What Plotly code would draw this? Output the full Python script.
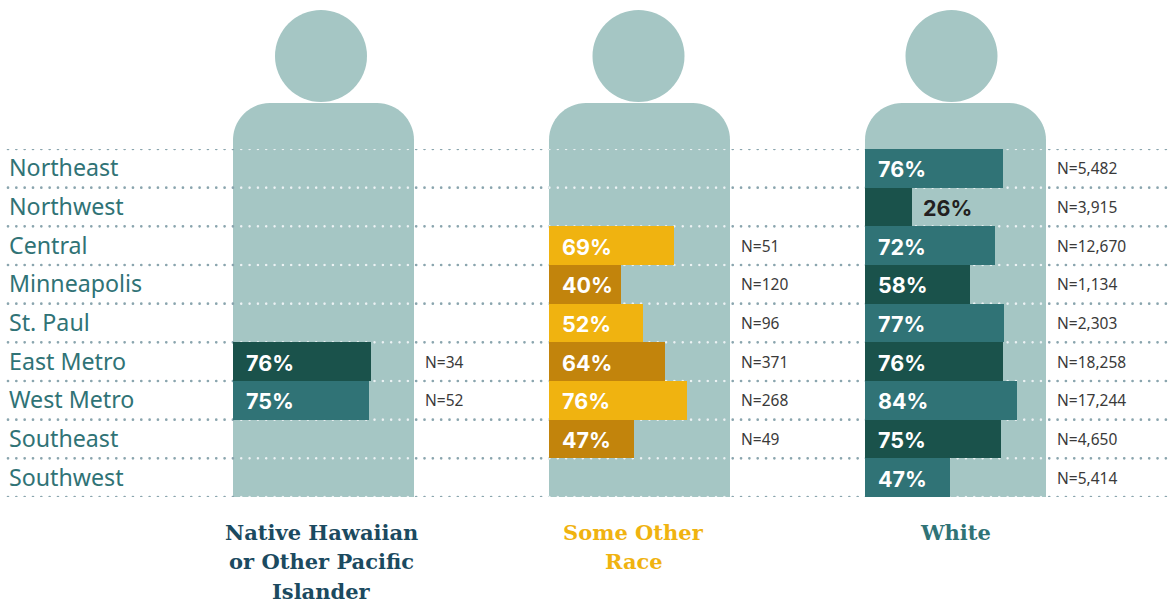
import plotly.graph_objects as go

regions = ["Northeast", "Northwest", "Central", "Minneapolis", "St. Paul", "East Metro", "West Metro", "Southeast", "Southwest"]

native_values = [None, None, None, None, None, 76, 75, None, None]
native_n = [None, None, None, None, None, "N=34", "N=52", None, None]
native_colors = ["#1a524b", "#1a524b", "#1a524b", "#1a524b", "#1a524b", "#1a524b", "#307376", "#1a524b", "#1a524b"]

other_values = [None, None, 69, 40, 52, 64, 76, 47, None]
other_n = [None, None, "N=51", "N=120", "N=96", "N=371", "N=268", "N=49", None]
other_colors = ["#f0b310", "#f0b310", "#f0b310", "#c2840c", "#f0b310", "#c2840c", "#f0b310", "#c2840c", "#f0b310"]

white_values = [76, 26, 72, 58, 77, 76, 84, 75, 47]
white_n = ["N=5,482", "N=3,915", "N=12,670", "N=1,134", "N=2,303", "N=18,258", "N=17,244", "N=4,650", "N=5,414"]
white_colors = ["#307376", "#1a524b", "#307376", "#1a524b", "#307376", "#1a524b", "#307376", "#1a524b", "#307376"]

W, H = 1170, 603
BODY = "#a5c6c4"
panels = [
    dict(ax="x", left=233, right=414, head=321, values=native_values, n=native_n, colors=native_colors,
         title=["Native Hawaiian", "or Other Pacific", "Islander"], tc="#1b4a60", tx=321.5),
    dict(ax="x2", left=549, right=730, head=638.5, values=other_values, n=other_n, colors=other_colors,
         title=["Some Other", "Race"], tc="#f0b310", tx=633.5),
    dict(ax="x3", left=865, right=1046, head=951.5, values=white_values, n=white_n, colors=white_colors,
         title=["White"], tc="#307376", tx=955.5),
]
PCT_FONT = "Inter"
LABEL_FONT = "Noto Sans"
TITLE_FONT = "DejaVu Serif"
ROW_TOP, ROW_BOTTOM = 149, 497

fig = go.Figure()
shapes, notes = [], []

def px(x):
    return x / W

def py(y):
    return 1 - y / H

# Silhouettes
K = 0.45
for p in panels:
    l, r = px(p["left"]), px(p["right"])
    t, b = py(103), py(ROW_BOTTOM)
    rx, ry = 37 / W, 37 / H
    path = (f"M {l} {b} L {l} {t - ry} C {l} {t - ry * K} {l + rx * K} {t} {l + rx} {t} "
            f"L {r - rx} {t} C {r - rx * K} {t} {r} {t - ry * K} {r} {t - ry} L {r} {b} Z")
    shapes.append(dict(type="path", path=path, xref="paper", yref="paper", fillcolor=BODY,
                       line=dict(width=0), layer="below"))
    shapes.append(dict(type="circle", xref="paper", yref="paper",
                       x0=px(p["head"] - 46), x1=px(p["head"] + 46), y0=py(102), y1=py(10),
                       fillcolor=BODY, line=dict(width=0), layer="below"))

# Dotted row separators: zero-length dashes become round dots with a round line cap
PITCH = 8.33
DOT = f"0.01px,{PITCH - 0.01}px"
for k in range(len(regions) + 1):
    yv = k - 0.5
    shapes.append(dict(type="line", xref="paper", yref="y", x0=px(8), x1=px(1166), y0=yv, y1=yv,
                       line=dict(color="#8aa5ae", width=2.7, dash=DOT), layer="below"))
    for p in panels:
        start = 8 + PITCH * int((p["left"] - 8) / PITCH + 1)
        shapes.append(dict(type="line", xref="paper", yref="y", x0=px(start), x1=px(p["right"]), y0=yv, y1=yv,
                           line=dict(color="#eaf3f3", width=2.7, dash=DOT), layer="below"))

# Bars and their labels
for p in panels:
    fig.add_trace(go.Bar(y=regions, x=p["values"], orientation="h", xaxis=p["ax"], yaxis="y",
                         marker=dict(color=p["colors"], line=dict(width=0)), hoverinfo="skip", showlegend=False))
    for reg, v, n in zip(regions, p["values"], p["n"]):
        if v is not None:
            inside = v >= 30
            notes.append(dict(xref=p["ax"], yref="y", x=0 if inside else v, y=reg, xanchor="left",
                              xshift=11 if inside else 9, yshift=-1, text=f"<b>{v}%</b>", showarrow=False,
                              font=dict(family=PCT_FONT, size=21.5, color="white" if inside else "#231f20")))
        if n is not None:
            notes.append(dict(xref=p["ax"], yref="y", x=100, y=reg, xanchor="left", xshift=9, text=n,
                              showarrow=False, font=dict(family=LABEL_FONT, size=15.5, color="#3a3a3a")))
    for i, line in enumerate(p["title"]):
        notes.append(dict(xref="paper", yref="paper", x=px(p["tx"]), y=py(532 + 29.5 * i), xanchor="center",
                          yanchor="middle", text=f"<b>{line}</b>", showarrow=False,
                          font=dict(family=TITLE_FONT, size=21, color=p["tc"])))

for reg in regions:
    notes.append(dict(xref="paper", yref="y", x=px(9), y=reg, xanchor="left", text=reg, showarrow=False,
                      xshift=-2, yshift=1, font=dict(family=LABEL_FONT, size=23.2, color="#307376")))

axis = dict(range=[0, 100], visible=False, fixedrange=True)
fig.update_layout(
    width=W, height=H, margin=dict(l=0, r=0, t=0, b=0), paper_bgcolor="white", plot_bgcolor="rgba(0,0,0,0)",
    barmode="overlay", bargap=0, shapes=shapes, annotations=notes,
    xaxis=dict(axis, domain=[px(233), px(414)], anchor="y"),
    xaxis2=dict(axis, domain=[px(549), px(730)], anchor="y"),
    xaxis3=dict(axis, domain=[px(865), px(1046)], anchor="y"),
    yaxis=dict(domain=[py(ROW_BOTTOM), py(ROW_TOP)], range=[len(regions) - 0.5, -0.5], visible=False,
               categoryorder="array", categoryarray=regions, fixedrange=True),
)
post = ("document.body.style.margin='0';document.documentElement.style.overflow='hidden';"
        "document.querySelectorAll('.shapelayer path').forEach(function(e){"
        "if((e.style.strokeDasharray||'').indexOf('0.01')===0){e.style.strokeLinecap='round';}});")
fig.write_html("out.html", config=dict(displayModeBar=False), default_width=W, default_height=H, post_script=post)
